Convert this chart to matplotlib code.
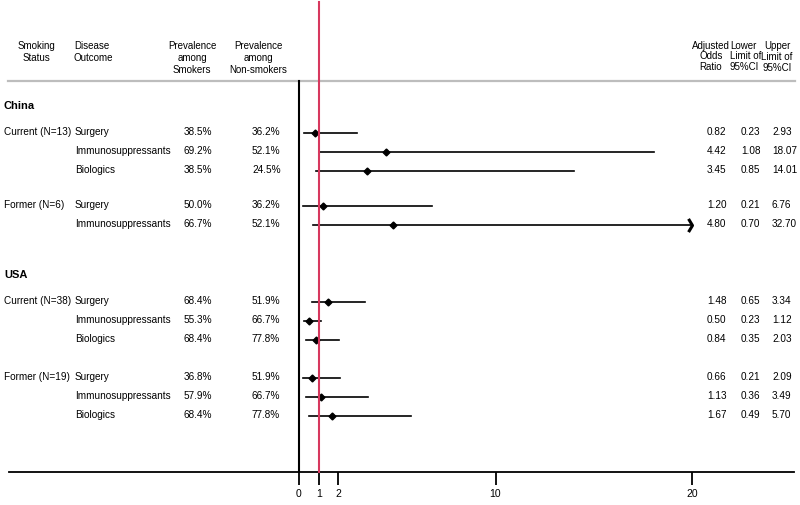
import numpy as np
import matplotlib
matplotlib.use('Agg')
import matplotlib.pyplot as plt
from matplotlib.path import Path

plt.rcParams['font.family'] = ['Liberation Sans', 'DejaVu Sans']

# --- data -------------------------------------------------------------
groups = ['China', 'USA']
group_rows = [[0, 1, 2, 3, 4], [5, 6, 7, 8, 9, 10]]
status = ['Current (N=13)', '', '', 'Former (N=6)', '',
          'Current (N=38)', '', '', 'Former (N=19)', '', '']
outcome = ['Surgery', 'Immunosuppressants', 'Biologics', 'Surgery', 'Immunosuppressants',
           'Surgery', 'Immunosuppressants', 'Biologics', 'Surgery', 'Immunosuppressants', 'Biologics']
prev_smokers = ['38.5%', '69.2%', '38.5%', '50.0%', '66.7%',
                '68.4%', '55.3%', '68.4%', '36.8%', '57.9%', '68.4%']
prev_nonsmokers = ['36.2%', '52.1%', '24.5%', '36.2%', '52.1%',
                   '51.9%', '66.7%', '77.8%', '51.9%', '66.7%', '77.8%']
odds = [0.82, 4.42, 3.45, 1.20, 4.80, 1.48, 0.50, 0.84, 0.66, 1.13, 1.67]
lower = [0.23, 1.08, 0.85, 0.21, 0.70, 0.65, 0.23, 0.35, 0.21, 0.36, 0.49]
upper = [2.93, 18.07, 14.01, 6.76, 32.70, 3.34, 1.12, 2.03, 2.09, 3.49, 5.70]
xticks = [0, 1, 2, 10, 20]
x_cap = 20

# --- layout (pixel rows, y grows downward) -----------------------------
row_y = [133, 152, 171, 206, 225, 302, 321, 340, 378, 397, 416]
group_y = [106, 275]

W, H = 800, 505
fig = plt.figure(figsize=(W / 100, H / 100), dpi=100)
ax_left, ax_right, ax_bottom = 9, 794, 472
ax = fig.add_axes([ax_left / W, (H - ax_bottom) / H, (ax_right - ax_left) / W, ax_bottom / H])

# x axis: value 0 at pixel 299, ~19.65 px per unit
x0_px, px_per_unit = 299, 19.65
def xv(px):
    return (px - x0_px) / px_per_unit

ax.set_xlim(xv(ax_left), xv(ax_right))
ax.set_ylim(ax_bottom, 0)
for s in ['top', 'left', 'right']:
    ax.spines[s].set_visible(False)
ax.spines['bottom'].set_linewidth(1.3)
ax.set_yticks([])
ax.set_xticks(xticks)
ax.set_xticklabels([str(t) for t in xticks])
ax.tick_params(axis='x', direction='out', length=9.5, width=1.3, labelsize=7.5, pad=3)

# header separator and reference lines
ax.plot([xv(8), xv(795)], [81, 81], color='#bdbdbd', lw=1.6, clip_on=False)
ax.plot([0, 0], [81, ax_bottom], color='black', lw=1.5)
ax.plot([1, 1], [2, ax_bottom], color='#d7385e', lw=1.5, clip_on=False, zorder=5)

# confidence intervals and odds ratios
chevron = Path([(-0.6, 1), (0, 0), (-0.6, -1)], [Path.MOVETO, Path.LINETO, Path.LINETO])
for i, y in enumerate(row_y):
    hi = min(upper[i], x_cap)
    ax.plot([lower[i], hi], [y, y], color='black', lw=1.2, zorder=3)
    ax.plot(odds[i], y, marker='D', markersize=3.5, color='black', zorder=4)
    if upper[i] > x_cap:
        ax.plot(x_cap, y, marker=chevron, markersize=9.5, markeredgewidth=2.2,
                color='black', fillstyle='none', zorder=4)

# header text
hs = 7
ax.text(xv(36), 41, 'Smoking\nStatus', ha='center', va='top', fontsize=hs, linespacing=1.25)
ax.text(xv(74), 41, 'Disease\nOutcome', ha='left', va='top', fontsize=hs, linespacing=1.25)
ax.text(xv(192), 41, 'Prevalence\namong\nSmokers', ha='center', va='top', fontsize=hs, linespacing=1.25)
ax.text(xv(258), 41, 'Prevalence\namong\nNon-smokers', ha='center', va='top', fontsize=hs, linespacing=1.25)
ax.text(xv(711), 41, 'Adjusted\nOdds\nRatio', ha='center', va='top', fontsize=hs, linespacing=1.05)
ax.text(xv(730), 41, 'Lower\nLimit of\n95%CI', ha='left', va='top', fontsize=hs, linespacing=1.05)
ax.text(xv(777), 41, 'Upper\nLimit of\n95%CI', ha='center', va='top', fontsize=hs, linespacing=1.15)

# group labels
for g, gy in zip(groups, group_y):
    ax.text(xv(4), gy, g, ha='left', va='center', fontsize=8, fontweight='bold')

# table rows
fs = 7.2
for i, y in enumerate(row_y):
    ty = y - 1
    if status[i]:
        ax.text(xv(4), ty, status[i], ha='left', va='center', fontsize=fs)
    ax.text(xv(75), ty, outcome[i], ha='left', va='center', fontsize=fs)
    ax.text(xv(184), ty, prev_smokers[i], ha='left', va='center', fontsize=fs)
    ax.text(xv(252), ty, prev_nonsmokers[i], ha='left', va='center', fontsize=fs)
    ax.text(xv(707), ty, f'{odds[i]:.2f}', ha='left', va='center', fontsize=fs)
    ax.text(xv(741), ty, f'{lower[i]:.2f}', ha='left', va='center', fontsize=fs)
    ax.text(xv(772), ty, f'{upper[i]:.2f}', ha='left', va='center', fontsize=fs)

fig.savefig('out.png', dpi=100)
